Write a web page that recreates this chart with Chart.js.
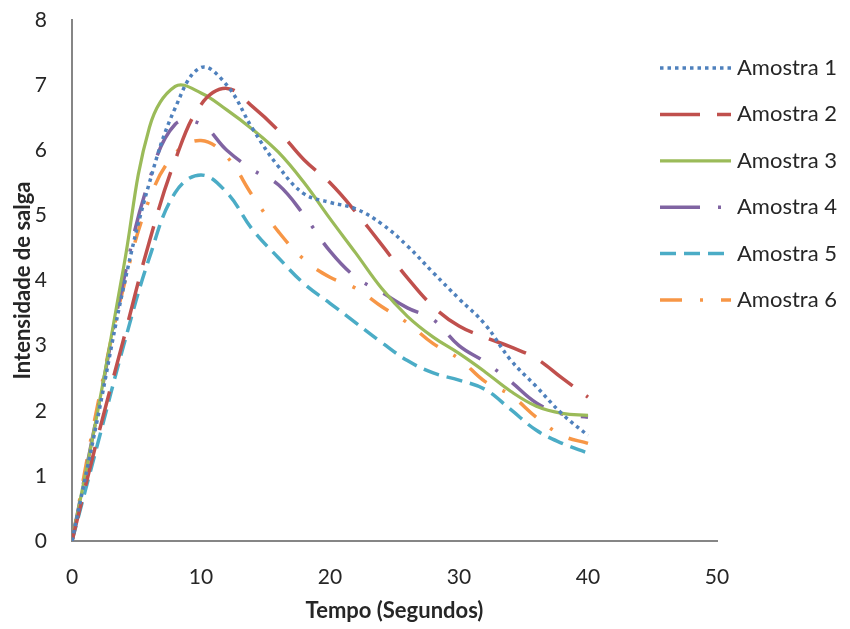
<!DOCTYPE html>
<html>
<head>
<meta charset="utf-8">
<script src="https://cdn.jsdelivr.net/npm/chart.js@4.4.1/dist/chart.umd.min.js"></script>
<style>
  html, body { margin: 0; padding: 0; background: #fff; }
  #wrap { width: 850px; height: 629px; }
</style>
</head>
<body>
<div id="wrap"><canvas id="myChart" width="850" height="629"></canvas></div>
<script>
// tempo (segundos)
var tempo = [0, 2, 4, 6, 8, 10, 12, 14, 16, 18, 20, 22, 24, 26, 28, 30, 32, 34, 36, 38, 40];

// intensidade de salga
var amostra1 = [0, 1.9, 3.9, 5.5, 6.65, 7.27, 7.0, 6.33, 5.75, 5.33, 5.2, 5.1, 4.87, 4.53, 4.12, 3.72, 3.33, 2.78, 2.37, 1.95, 1.62];
var amostra2 = [0, 1.6, 3.1, 4.6, 5.85, 6.7, 6.95, 6.67, 6.3, 5.85, 5.5, 5.05, 4.55, 4.04, 3.6, 3.3, 3.13, 2.98, 2.8, 2.5, 2.21];
var amostra3 = [0, 2.0, 4.2, 6.35, 6.98, 6.88, 6.62, 6.32, 5.97, 5.5, 4.95, 4.42, 3.88, 3.45, 3.13, 2.88, 2.6, 2.3, 2.07, 1.96, 1.93];
var amostra4 = [0, 2.0, 4.0, 5.55, 6.4, 6.4, 6.0, 5.7, 5.47, 5.0, 4.45, 4.05, 3.82, 3.58, 3.4, 3.0, 2.75, 2.45, 2.12, 1.95, 1.9];
var amostra5 = [0, 1.5, 3.0, 4.35, 5.35, 5.62, 5.35, 4.78, 4.35, 3.95, 3.65, 3.35, 3.05, 2.77, 2.58, 2.47, 2.33, 2.02, 1.7, 1.5, 1.35];
var amostra6 = [0, 2.1, 3.9, 5.25, 5.95, 6.15, 5.9, 5.3, 4.75, 4.32, 4.05, 3.88, 3.6, 3.35, 3.03, 2.8, 2.45, 2.24, 1.9, 1.62, 1.5];

var nomes = ['Amostra 1', 'Amostra 2', 'Amostra 3', 'Amostra 4', 'Amostra 5', 'Amostra 6'];

// x ticks 0..50, y ticks 0..8
var xMax = 50;
var yMax = 8;

function pts(vals) {
  return tempo.map(function (t, i) { return { x: t, y: vals[i] }; });
}

const data = {
  datasets: [{
    label: nomes[0],
    data: pts(amostra1),
    borderColor: '#4F81BD',
    borderWidth: 3.5,
    borderDash: [3.5, 4]
  },
  {
    label: nomes[1],
    data: pts(amostra2),
    borderColor: '#C0504D',
    borderWidth: 3.5,
    borderDash: [40, 17]
  },
  {
    label: nomes[2],
    data: pts(amostra3),
    borderColor: '#9BBB59',
    borderWidth: 3.2
  },
  {
    label: nomes[3],
    data: pts(amostra4),
    borderColor: '#8064A2',
    borderWidth: 3.5,
    borderDash: [40, 18, 3, 18]
  },
  {
    label: nomes[4],
    data: pts(amostra5),
    borderColor: '#4BACC6',
    borderWidth: 3.5,
    borderDash: [16, 8]
  },
  {
    label: nomes[5],
    data: pts(amostra6),
    borderColor: '#F79646',
    borderWidth: 3.5,
    borderDash: [22, 18, 3, 18]
  }]
};

// legend drawn by hand, Excel style
const legendaExcel = {
  id: 'legendaExcel',
  afterDraw: function (chart) {
    var ctx = chart.ctx;
    ctx.save();
    chart.data.datasets.forEach(function (ds, i) {
      var y = 68 + i * 46.4;
      ctx.strokeStyle = ds.borderColor;
      ctx.lineWidth = ds.borderWidth;
      ctx.setLineDash(ds.borderDash || []);
      ctx.beginPath();
      ctx.moveTo(660, y);
      ctx.lineTo(731, y);
      ctx.stroke();
      ctx.setLineDash([]);
      ctx.fillStyle = '#262626';
      ctx.font = '22px Lato';
      ctx.textBaseline = 'middle';
      ctx.fillText(ds.label, 737, y);
    });
    ctx.restore();
  }
};

const eixo = {
  color: '#868686',
  width: 2
};

const config = {
  type: 'line',
  data: data,
  plugins: [legendaExcel],
  options: {
    responsive: false,
    animation: false,
    elements: {
      point: { radius: 0 },
      line: { tension: 0.4, fill: false }
    },
    layout: {
      padding: { left: 10, right: 133, top: 20, bottom: 5 }
    },
    plugins: {
      legend: { display: false },
      tooltip: { enabled: false }
    },
    scales: {
      x: {
        type: 'linear',
        min: 0,
        max: xMax,
        afterFit: function (scale) { scale.height = 83; },
        ticks: {
          stepSize: 10,
          color: '#262626',
          font: { family: 'Lato', size: 21 },
          padding: 24
        },
        grid: { drawOnChartArea: false, drawTicks: false },
        border: eixo,
        title: {
          display: true,
          text: 'Tempo (Segundos)',
          color: '#262626',
          font: { family: 'Lato', size: 22, weight: 'bold' },
          padding: { top: 0, bottom: 0 }
        }
      },
      y: {
        min: 0,
        max: yMax,
        afterFit: function (scale) {
          scale.width = 62;
          scale.paddingTop = 0;
          scale.paddingBottom = 0;
        },
        ticks: {
          stepSize: 1,
          color: '#262626',
          font: { family: 'Lato', size: 21, lineHeight: 0.6 },
          padding: 25
        },
        grid: { drawOnChartArea: false, drawTicks: false },
        border: eixo,
        title: {
          display: true,
          text: 'Intensidade de salga',
          color: '#262626',
          font: { family: 'Lato', size: 22, weight: 'bold' },
          padding: { top: 0, bottom: 0 }
        }
      }
    }
  }
};

const myChart = new Chart(document.getElementById('myChart'), config);
</script>
</body>
</html>
